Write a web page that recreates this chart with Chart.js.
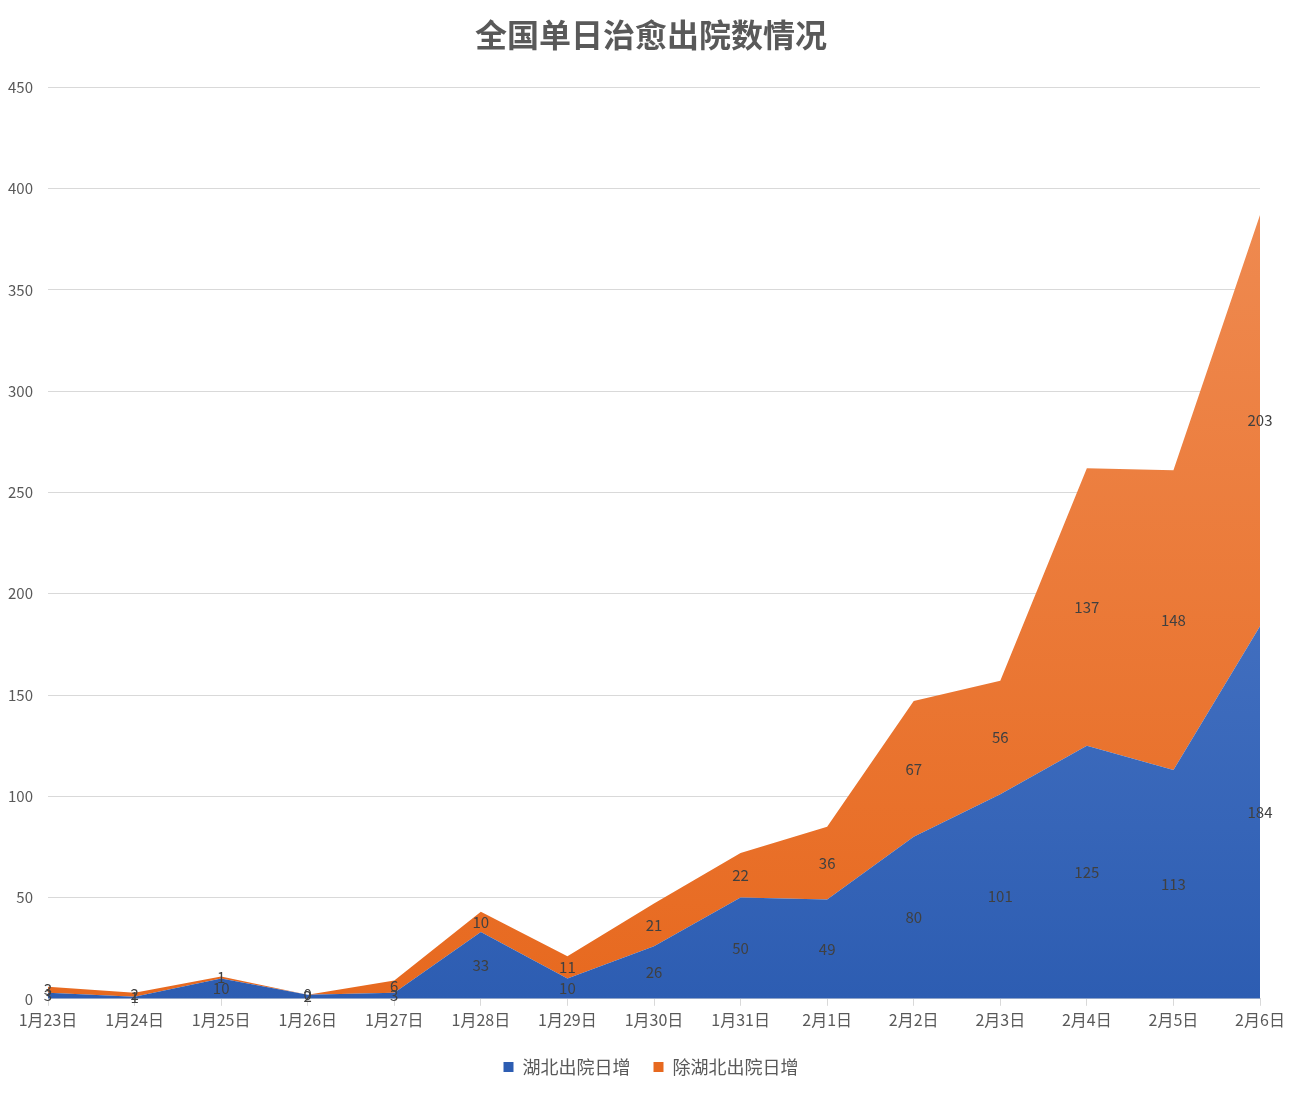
<!DOCTYPE html>
<html>
<head>
<meta charset="utf-8">
<script src="https://cdn.jsdelivr.net/npm/chart.js@4/dist/chart.umd.min.js"></script>
<style>
  html, body { margin: 0; padding: 0; background: #fff; }
  #wrap { width: 1302px; height: 1096px; }
</style>
</head>
<body>
<div id="wrap"><canvas id="myChart"></canvas></div>
<script>
const days = ["1月23日", "1月24日", "1月25日", "1月26日", "1月27日", "1月28日", "1月29日",
  "1月30日", "1月31日", "2月1日", "2月2日", "2月3日", "2月4日", "2月5日", "2月6日"];
const hubei = [3, 1, 10, 2, 3, 33, 10, 26, 50, 49, 80, 101, 125, 113, 184];
const others = [3, 2, 1, 0, 6, 10, 11, 21, 22, 36, 67, 56, 137, 148, 203];

const font = '"Noto Sans CJK SC", "Noto Sans", sans-serif';

function grad(ctx, bottom, top) {
  const area = ctx.chart.chartArea;
  if (!area) return bottom;
  const g = ctx.chart.ctx.createLinearGradient(0, area.bottom, 0, area.top);
  g.addColorStop(0, bottom);
  g.addColorStop(1, top);
  return g;
}

// value labels in the middle of each band
const bandLabels = {
  id: "bandLabels",
  afterDatasetsDraw(chart) {
    const c = chart.ctx;
    const x = chart.scales.x, y = chart.scales.y;
    c.save();
    c.font = "15px " + font;
    c.fillStyle = "#404040";
    c.textAlign = "center";
    c.textBaseline = "middle";
    days.forEach((d, i) => {
      const px = x.getPixelForValue(i);
      c.fillText(hubei[i], px, y.getPixelForValue(hubei[i] / 2));
      c.fillText(others[i], px, y.getPixelForValue(hubei[i] + others[i] / 2));
    });
    c.restore();
  }
};

const ctx = document.querySelector("#myChart");

const myChart = new Chart(ctx, {
  type: "line",
  data: {
    labels: days,
    datasets: [
      {
        label: "湖北出院日增",
        data: hubei,
        fill: "origin",
        borderWidth: 0,
        pointRadius: 0,
        borderColor: "#4472c4",
        backgroundColor: (c) => grad(c, "#2d5db2", "#5d87d2"),
      },
      {
        label: "除湖北出院日增",
        data: others,
        fill: "-1",
        borderWidth: 0,
        pointRadius: 0,
        borderColor: "#ed7d31",
        backgroundColor: (c) => grad(c, "#e7691f", "#f08f58"),
      },
    ],
  },
  options: {
    responsive: true,
    maintainAspectRatio: false,
    animation: false,
    layout: { padding: { left: 0, right: 0, top: 14, bottom: 10 } },
    plugins: {
      title: {
        display: true,
        text: "全国单日治愈出院数情况",
        color: "#595959",
        font: { family: font, size: 32, weight: "bold" },
        padding: { top: 2, bottom: 33 },
      },
      legend: {
        position: "bottom",
        labels: {
          color: "#595959",
          font: { family: font, size: 18 },
          usePointStyle: true,
          pointStyle: "rect",
          boxWidth: 10,
          boxHeight: 10,
          padding: 23,
        },
      },
      tooltip: { enabled: false },
    },
    scales: {
      x: {
        stacked: true,
        offset: false,
        grid: {
          display: true,
          drawOnChartArea: false,
          drawTicks: true,
          tickLength: 7,
          color: "#d9d9d9",
        },
        border: { color: "#d9d9d9" },
        ticks: {
          color: "#595959",
          font: { family: font, size: 16 },
          maxRotation: 0,
          autoSkip: false,
          padding: 5,
        },
      },
      y: {
        stacked: true,
        min: 0,
        max: 450,
        afterFit(scale) { scale.width = 48; },
        grid: { color: "#d9d9d9", drawTicks: false },
        border: { display: false },
        ticks: {
          stepSize: 50,
          color: "#595959",
          font: { family: font, size: 15 },
          padding: 15,
        },
      },
      // empty right-hand spacer so the title and legend stay centred on the page
      spacer: {
        position: "right",
        display: true,
        afterFit(scale) { scale.width = 42; },
        grid: { display: false },
        border: { display: false },
        ticks: { display: false },
      },
    },
  },
  plugins: [bandLabels],
});
</script>
</body>
</html>
